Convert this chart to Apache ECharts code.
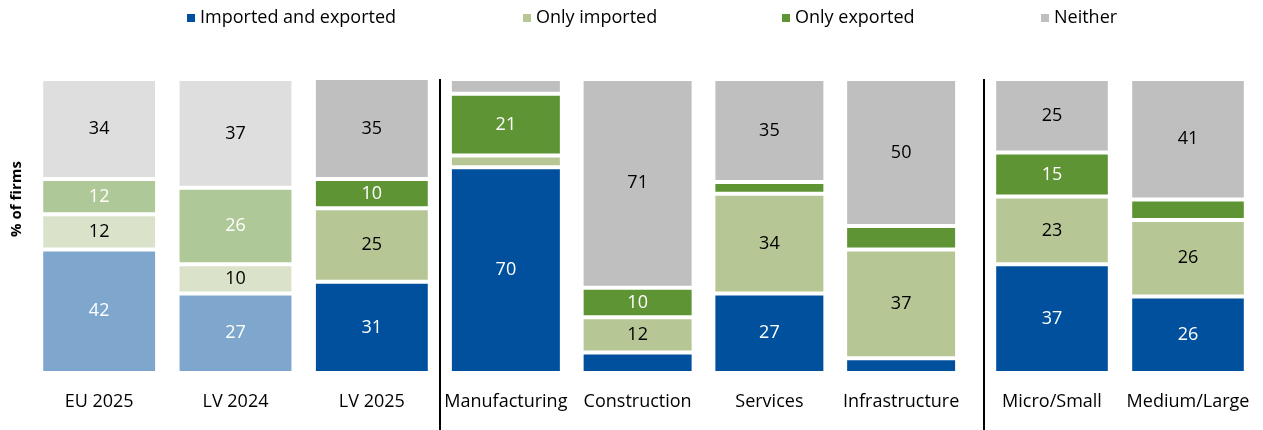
<!DOCTYPE html>
<html>
<head>
<meta charset="utf-8">
<script src="https://cdn.jsdelivr.net/npm/echarts@6/dist/echarts.min.js"></script>
<style>
  html, body { margin: 0; padding: 0; background: #fff; }
  #chart { width: 1263px; height: 430px; }
</style>
</head>
<body>
<div id="chart"></div>
<script>
// Categories, split into three panels: benchmarks, sectors, firm size
const categories = ['EU 2025', 'LV 2024', 'LV 2025',
  'Manufacturing', 'Construction', 'Services', 'Infrastructure',
  'Micro/Small', 'Medium/Large'];
const panelSizes = [3, 4, 2];
// Comparison bars drawn in lighter shades
const lightCategories = ['EU 2025', 'LV 2024'];

const seriesNames = ['Imported and exported', 'Only imported', 'Only exported', 'Neither'];

// % of firms
const importedExported = [42, 27, 31, 70, 7, 27, 5, 37, 26];
const onlyImported     = [12, 10, 25, 4, 12, 34, 37, 23, 26];
const onlyExported     = [12, 26, 10, 21, 10, 4, 8, 15, 7];
const neither          = [34, 37, 35, 5, 71, 35, 50, 25, 41];

const seriesValues = [importedExported, onlyImported, onlyExported, neither];
const colors      = ['#00509E', '#B6C695', '#5F9434', '#BFBFBF'];
const lightColors = ['#7FA7CE', '#DAE3CA', '#AEC898', '#DEDEDE'];
const labelColors = ['#ffffff', '#000000', '#ffffff', '#000000'];

const FONT = 'Open Sans';
const PLOT_TOP = 79, PLOT_HEIGHT = 294;
const panels = [
  { left: 31,  width: 409 },
  { left: 440, width: 527 },
  { left: 984, width: 272 }
];
const legendLefts = [185, 521, 780, 1039];

const chart = echarts.init(document.getElementById('chart'), null, { renderer: 'canvas' });

const grid = [], xAxis = [], yAxis = [], series = [];
let start = 0;
panelSizes.forEach((n, g) => {
  const cats = categories.slice(start, start + n);
  grid.push({ left: panels[g].left, width: panels[g].width, top: PLOT_TOP, height: PLOT_HEIGHT, containLabel: false });
  xAxis.push({
    type: 'category', gridIndex: g, data: cats,
    axisLine: { show: false }, axisTick: { show: false },
    axisLabel: { color: '#000', fontFamily: FONT, fontSize: 18, margin: 20, interval: 0 }
  });
  yAxis.push({ type: 'value', gridIndex: g, min: 0, max: 100, show: false, splitLine: { show: false } });
  seriesNames.forEach((name, s) => {
    const data = cats.map((c, k) => {
      const v = seriesValues[s][start + k];
      const light = lightCategories.includes(c);
      return {
        value: v,
        itemStyle: { color: light ? lightColors[s] : colors[s] },
        label: { show: v >= 10 }
      };
    });
    series.push({
      name, type: 'bar', stack: 'p' + g, xAxisIndex: g, yAxisIndex: g,
      barWidth: '85%',
      itemStyle: { color: colors[s], borderColor: '#ffffff', borderWidth: 2 },
      label: {
        position: 'inside', color: labelColors[s], fontFamily: FONT, fontSize: 18,
        formatter: p => String(p.value)
      },
      emphasis: { disabled: true },
      data
    });
  });
  start += n;
});

const legend = seriesNames.map((name, i) => ({
  data: [name], left: legendLefts[i], top: 9, padding: 0,
  itemWidth: 10, itemHeight: 10, itemGap: 0,
  icon: 'rect',
  textStyle: { color: '#000', fontFamily: FONT, fontSize: 18, padding: [0, 0, 0, -1] },
  selectedMode: true
}));

// Panel dividers and y-axis title
const dividerXs = [panels[1].left, panels[2].left];
const graphic = dividerXs.map(x => ({
  type: 'line', silent: true,
  shape: { x1: x, y1: PLOT_TOP, x2: x, y2: 430 },
  style: { stroke: '#000', lineWidth: 2 }
}));
graphic.push({
  type: 'text', silent: true, x: 17, y: 199, rotation: Math.PI / 2,
  style: {
    text: '% of firms', fill: '#000', fontFamily: FONT, fontWeight: 'bold', fontSize: 15,
    align: 'center', verticalAlign: 'middle'
  }
});

chart.setOption({
  animation: false,
  color: colors,
  legend, grid, xAxis, yAxis, series, graphic
});
</script>
</body>
</html>
